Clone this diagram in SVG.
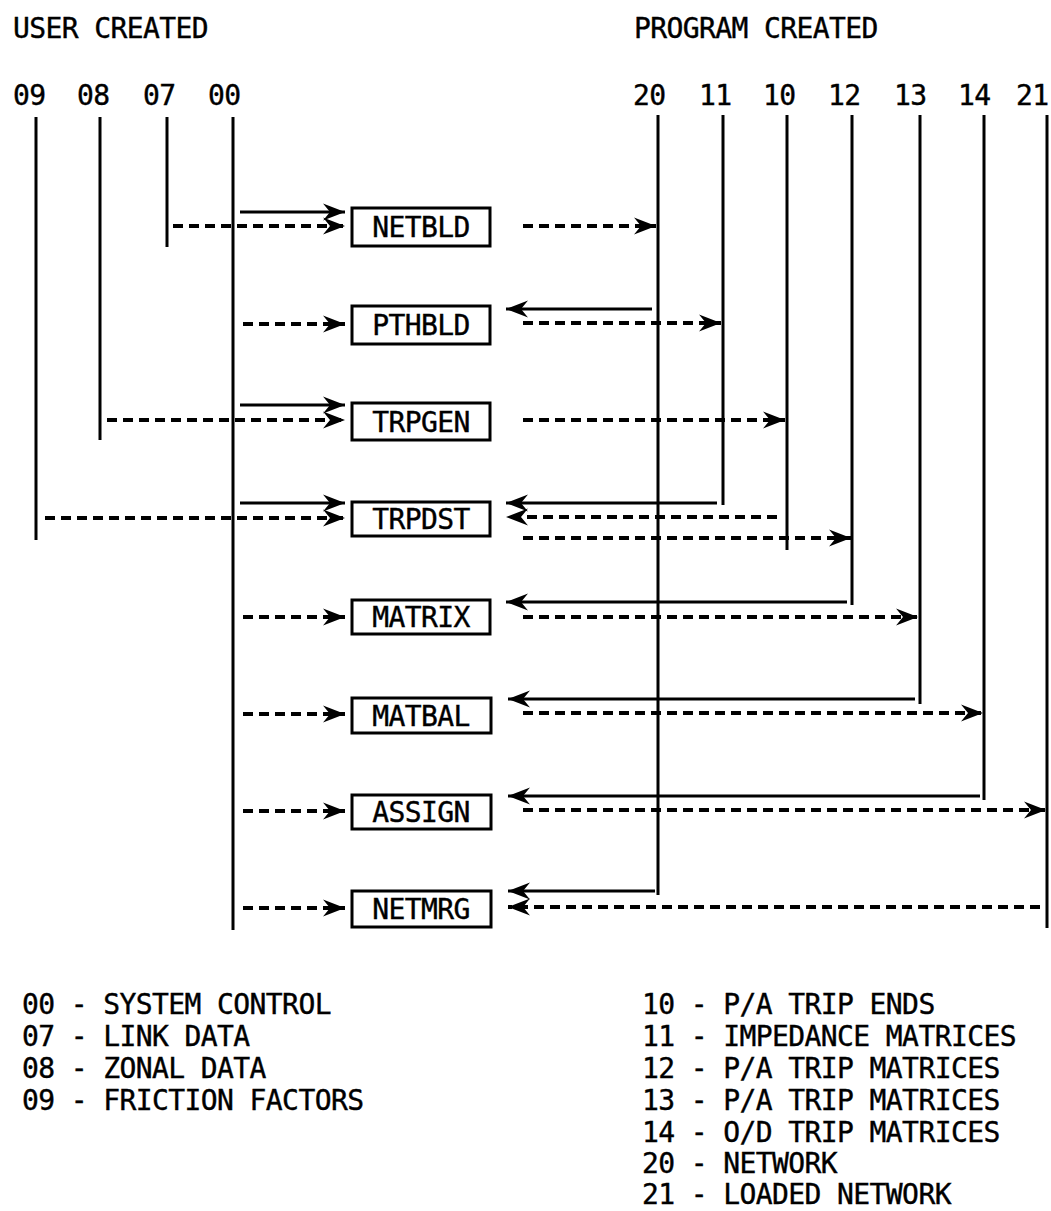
<svg xmlns="http://www.w3.org/2000/svg" width="1051" height="1211" viewBox="0 0 1051 1211">
<style>
text{font-family:"DejaVu Sans Mono","Liberation Mono",monospace;font-size:28px;letter-spacing:-0.6px;fill:#000;stroke:#000;stroke-width:0.4}
.box rect{fill:#fff;stroke:#000;stroke-width:3}
.box text{text-anchor:middle}
.v{stroke:#000;stroke-width:3;fill:none}
.s{stroke:#000;stroke-width:3;fill:none;marker-end:url(#ah)}
.d{stroke:#000;stroke-width:4;fill:none;stroke-dasharray:10 6;marker-end:url(#ah)}
</style>
<defs>
<marker id="ah" markerUnits="userSpaceOnUse" markerWidth="26" markerHeight="20" viewBox="-24 -10 26 20" refX="0" refY="0" orient="auto">
<path d="M0,0 L-22,-8.5 L-15,0 L-22,8.5 Z" fill="#000"/>
</marker>
</defs>
<rect width="1051" height="1211" fill="#fff"/>
<g id="headers">
<text x="13" y="38">USER CREATED</text>
<text x="634" y="38">PROGRAM CREATED</text>
<text x="13" y="105">09</text>
<text x="77" y="105">08</text>
<text x="143" y="105">07</text>
<text x="208" y="105">00</text>
<text x="633" y="105">20</text>
<text x="699" y="105">11</text>
<text x="763" y="105">10</text>
<text x="828" y="105">12</text>
<text x="894" y="105">13</text>
<text x="958" y="105">14</text>
<text x="1016" y="105">21</text>
</g>
<g id="connectors">
<line class="v" x1="36" y1="117" x2="36" y2="540"/>
<line class="v" x1="100" y1="117" x2="100" y2="440"/>
<line class="v" x1="167" y1="117" x2="167" y2="247"/>
<line class="v" x1="233" y1="117" x2="233" y2="930"/>
<line class="v" x1="658" y1="115" x2="658" y2="895"/>
<line class="v" x1="723" y1="115" x2="723" y2="505"/>
<line class="v" x1="787" y1="115" x2="787" y2="550"/>
<line class="v" x1="852" y1="115" x2="852" y2="605"/>
<line class="v" x1="920" y1="115" x2="920" y2="704"/>
<line class="v" x1="984" y1="115" x2="984" y2="800"/>
<line class="v" x1="1047" y1="115" x2="1047" y2="928"/>
<path class="s" d="M240,212 H345"/>
<path class="d" d="M173,226 H345"/>
<path class="d" d="M523,226 H656"/>
<path class="d" d="M243,324 H345"/>
<path class="s" d="M652,309 H506"/>
<path class="d" d="M523,323 H721"/>
<path class="s" d="M240,405 H345"/>
<path class="d" d="M107,420 H345"/>
<path class="d" d="M523,420 H785"/>
<path class="s" d="M240,503 H345"/>
<path class="d" d="M45,518 H345"/>
<path class="s" d="M717,503 H506"/>
<path class="d" d="M777,517 H506"/>
<path class="d" d="M523,538 H851"/>
<path class="d" d="M243,617 H345"/>
<path class="s" d="M847,602 H506"/>
<path class="d" d="M523,617 H918"/>
<path class="d" d="M243,714 H345"/>
<path class="s" d="M915,699 H508"/>
<path class="d" d="M523,713 H983"/>
<path class="d" d="M243,811 H345"/>
<path class="s" d="M980,796 H508"/>
<path class="d" d="M523,810 H1046"/>
<path class="d" d="M243,908 H345"/>
<path class="s" d="M655,891 H508"/>
<path class="d" d="M1040,907 H508"/>
</g>
<g id="netbld" class="box"><rect x="352" y="208" width="138" height="38"/><text x="421" y="237">NETBLD</text></g>
<g id="pthbld" class="box"><rect x="352" y="306" width="138" height="38"/><text x="421" y="335">PTHBLD</text></g>
<g id="trpgen" class="box"><rect x="352" y="403" width="138" height="37"/><text x="421" y="432">TRPGEN</text></g>
<g id="trpdst" class="box"><rect x="352" y="502" width="138" height="34"/><text x="421" y="529">TRPDST</text></g>
<g id="matrix" class="box"><rect x="352" y="600" width="138" height="34"/><text x="421" y="627">MATRIX</text></g>
<g id="matbal" class="box"><rect x="352" y="698" width="139" height="35"/><text x="421" y="726">MATBAL</text></g>
<g id="assign" class="box"><rect x="352" y="795" width="139" height="34"/><text x="421" y="822">ASSIGN</text></g>
<g id="netmrg" class="box"><rect x="352" y="891" width="139" height="36"/><text x="421" y="919">NETMRG</text></g>
<g id="legend-user">
<text x="22" y="1014">00 - SYSTEM CONTROL</text>
<text x="22" y="1046">07 - LINK DATA</text>
<text x="22" y="1078">08 - ZONAL DATA</text>
<text x="22" y="1110">09 - FRICTION FACTORS</text>
</g>
<g id="legend-program">
<text x="642" y="1014">10 - P/A TRIP ENDS</text>
<text x="642" y="1046">11 - IMPEDANCE MATRICES</text>
<text x="642" y="1078">12 - P/A TRIP MATRICES</text>
<text x="642" y="1110">13 - P/A TRIP MATRICES</text>
<text x="642" y="1142">14 - O/D TRIP MATRICES</text>
<text x="642" y="1173">20 - NETWORK</text>
<text x="642" y="1204">21 - LOADED NETWORK</text>
</g>
</svg>
